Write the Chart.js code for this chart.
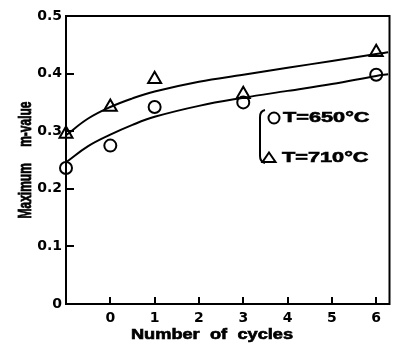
<!DOCTYPE html>
<html>
<head>
<meta charset="utf-8">
<script src="https://cdn.jsdelivr.net/npm/chart.js@4/dist/chart.umd.min.js"></script>
<style>html,body{margin:0;padding:0;background:#fff;}canvas{display:block;}</style>
</head>
<body>
<canvas id="c" width="399" height="344"></canvas>
<script>
// ---- data ----
const cycles = [-1, 0, 1, 3, 6];
const m650 = [0.236, 0.275, 0.342, 0.350, 0.398];
const m710 = [0.295, 0.342, 0.390, 0.364, 0.437];
const fitCycles = [-1, -0.5, 0, 0.5, 1, 2, 3, 4, 5, 6, 6.27];
const fit650 = [0.246, 0.274, 0.294, 0.311, 0.325, 0.344, 0.358, 0.370, 0.382, 0.396, 0.399];
const fit710 = [0.293, 0.322, 0.342, 0.357, 0.369, 0.386, 0.398, 0.410, 0.422, 0.434, 0.437];
const xTickValues = [0, 1, 2, 3, 4, 5, 6];
const yTickValues = [0, 0.1, 0.2, 0.3, 0.4, 0.5];
const yInnerTicks = [0.1, 0.2, 0.3, 0.4];
const xTitle = 'Number of cycles';
const yTitle = 'Maximum m-value';
const legendLabels = ['T=650°C', 'T=710°C'];

const toPts = (xs, ys) => xs.map((x, i) => ({x: x, y: ys[i]}));

function heavyText(ctx, text, x, y) {
  ctx.fillText(text, x, y);
  ctx.strokeText(text, x, y);
}

const decor = {
  id: 'decor',
  beforeDatasetsDraw(chart) {
    const {ctx, chartArea: a, scales: {x, y}} = chart;
    ctx.save();
    ctx.strokeStyle = '#000';
    ctx.lineWidth = 2;
    ctx.strokeRect(a.left, a.top, a.right - a.left, a.bottom - a.top);
    ctx.beginPath();
    yInnerTicks.forEach(v => {
      const py = Math.round(y.getPixelForValue(v));
      ctx.moveTo(a.left, py); ctx.lineTo(a.left + 8, py);
    });
    xTickValues.forEach(v => {
      const px = Math.round(x.getPixelForValue(v));
      ctx.moveTo(px, a.bottom); ctx.lineTo(px, a.bottom - 7);
    });
    ctx.stroke();
    ctx.restore();
  },
  afterDraw(chart) {
    const {ctx} = chart;
    ctx.save();
    ctx.fillStyle = '#000';
    ctx.strokeStyle = '#000';
    // x title
    ctx.save();
    ctx.font = 'bold 14px "Liberation Sans"';
    ctx.textAlign = 'center';
    ctx.textBaseline = 'middle';
    ctx.lineWidth = 0.6;
    ctx.translate(212, 335);
    ctx.scale(1.3, 1);
    try { ctx.wordSpacing = '4px'; } catch (e) {}
    heavyText(ctx, xTitle, 0, 0);
    ctx.restore();
    // y title
    ctx.save();
    ctx.font = 'bold 12px "Liberation Sans"';
    ctx.textAlign = 'center';
    ctx.textBaseline = 'middle';
    ctx.lineWidth = 0.5;
    ctx.translate(26, 160);
    ctx.rotate(-Math.PI / 2);
    ctx.scale(1, 1.6);
    try { ctx.wordSpacing = '13px'; } catch (e) {}
    heavyText(ctx, yTitle, 0, 0);
    ctx.restore();
    // legend bracket
    ctx.lineWidth = 2;
    ctx.beginPath();
    ctx.moveTo(265, 110);
    ctx.quadraticCurveTo(260, 111, 260, 117);
    ctx.lineTo(260, 156);
    ctx.quadraticCurveTo(260, 162, 265, 163);
    ctx.stroke();
    // circle marker
    ctx.beginPath();
    ctx.arc(274, 118, 5.5, 0, Math.PI * 2);
    ctx.stroke();
    // triangle marker
    ctx.beginPath();
    ctx.moveTo(269, 152.5);
    ctx.lineTo(275.5, 162);
    ctx.lineTo(262.5, 162);
    ctx.closePath();
    ctx.stroke();
    // legend texts
    ctx.font = 'bold 14px "Liberation Sans"';
    ctx.textAlign = 'left';
    ctx.textBaseline = 'middle';
    ctx.lineWidth = 0.6;
    ctx.save();
    ctx.translate(283, 118.5);
    ctx.scale(1.55, 1);
    heavyText(ctx, legendLabels[0], 0, 0);
    ctx.restore();
    ctx.save();
    ctx.translate(282, 158.5);
    ctx.scale(1.55, 1);
    heavyText(ctx, legendLabels[1], 0, 0);
    ctx.restore();
    ctx.restore();
  }
};

const tickFont = {family: '"DejaVu Sans"', size: 14, weight: 'bold'};

new Chart(document.getElementById('c'), {
  type: 'scatter',
  data: {
    datasets: [
      {label: 'fit 650', data: toPts(fitCycles, fit650), showLine: true, pointRadius: 0,
       borderColor: '#000', borderWidth: 2, tension: 0.4, clip: false},
      {label: 'fit 710', data: toPts(fitCycles, fit710), showLine: true, pointRadius: 0,
       borderColor: '#000', borderWidth: 2, tension: 0.4, clip: false},
      {label: legendLabels[0], data: toPts(cycles, m650), showLine: false, pointStyle: 'circle',
       pointRadius: 6, pointBorderWidth: 2, pointBorderColor: '#000', pointBackgroundColor: 'rgba(0,0,0,0)', clip: false},
      {label: legendLabels[1], data: toPts(cycles, m710), showLine: false, pointStyle: 'triangle',
       pointRadius: 7.5, pointBorderWidth: 2, pointBorderColor: '#000', pointBackgroundColor: 'rgba(0,0,0,0)', clip: false}
    ]
  },
  options: {
    responsive: false,
    animation: false,
    events: [],
    layout: {padding: {top: 16, right: 4, left: 0, bottom: 0}},
    plugins: {legend: {display: false}, tooltip: {enabled: false}},
    scales: {
      x: {
        type: 'linear', min: -1, max: 6.3,
        afterBuildTicks: s => { s.ticks = xTickValues.map(v => ({value: v})); },
        afterFit: s => { s.height = 40; },
        grid: {display: false, drawTicks: false},
        border: {display: false},
        ticks: {padding: 6, color: '#000', font: tickFont, maxRotation: 0, autoSkip: false,
                callback: v => String(v)}
      },
      y: {
        type: 'linear', min: 0, max: 0.5,
        afterBuildTicks: s => { s.ticks = yTickValues.map(v => ({value: v})); },
        afterFit: s => { s.width = 66; },
        grid: {display: false, drawTicks: false},
        border: {display: false},
        ticks: {padding: 4, color: '#000', font: tickFont, autoSkip: false,
                callback: v => (v === 0 ? '0' : Number(v).toFixed(1))}
      }
    }
  },
  plugins: [decor]
});
</script>
</body>
</html>
